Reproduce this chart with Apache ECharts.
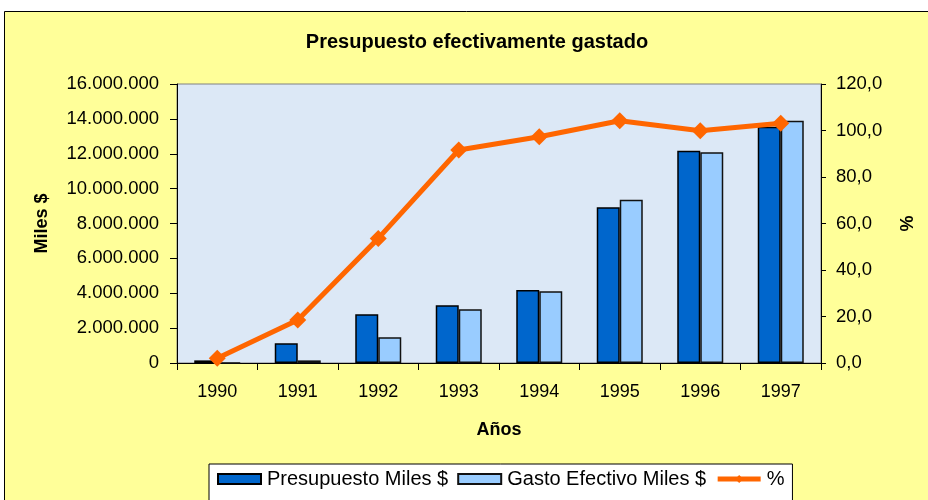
<!DOCTYPE html>
<html>
<head>
<meta charset="utf-8">
<title>Presupuesto efectivamente gastado</title>
<script src="https://cdn.jsdelivr.net/npm/echarts@6/dist/echarts.min.js"></script>
<style>
	html, body { margin: 0; padding: 0; background: #fff; }
	#chart { width: 928px; height: 500px; }
</style>
</head>
<body>
<div id="chart"></div>
<script>
var anios = ["1990", "1991", "1992", "1993", "1994", "1995", "1996", "1997"];
var presupuesto = [150000, 1130000, 2790000, 3310000, 4190000, 8930000, 12170000, 13550000];
var gasto = [4000, 150000, 1470000, 3080000, 4110000, 9360000, 12080000, 13890000];
var porcentaje = [2.0, 18.5, 53.6, 91.6, 97.3, 104.2, 99.9, 103.1];

var fuente = "Liberation Sans";

//miles con punto: 16.000.000
function fmtMiles(v) {
	return String(v).replace(/\B(?=(\d{3})+(?!\d))/g, ".");
}
//porcentaje con coma: 120,0
function fmtPct(v) {
	return v.toFixed(1).replace(".", ",");
}

var chart = echarts.init(document.getElementById("chart"));
chart.setOption({
	backgroundColor: "#ffffff",
	animation: false,
	textStyle: { fontFamily: fuente },
	graphic: [{
		type: "rect",
		z: -10,
		shape: { x: 4.5, y: 11.5, width: 940, height: 520 },
		style: { fill: "#FFFF99", stroke: "#000", lineWidth: 1 }
	}],
	title: {
		text: "Presupuesto efectivamente gastado",
		left: 472,
		textAlign: "center",
		top: 27,
		textStyle: { fontFamily: fuente, fontSize: 20, fontWeight: "bold", color: "#000" }
	},
	legend: {
		left: 209,
		top: 464,
		padding: [5, 8, 16, 8],
		borderColor: "#000",
		borderWidth: 1,
		backgroundColor: "#fff",
		itemWidth: 43,
		itemHeight: 10,
		itemGap: 9,
		textStyle: { fontFamily: fuente, fontSize: 20, color: "#000", padding: [0, 0, 0, 1] },
		data: [
			{ name: "Presupuesto Miles $", icon: "rect" },
			{ name: "Gasto Efectivo Miles $", icon: "rect" },
			{ name: "%", lineStyle: { width: 5 } }
		]
	},
	grid: {
		left: 177,
		right: 107,
		top: 84,
		bottom: 137,
		show: true,
		backgroundColor: "#DCE8F6",
		borderColor: "#808080",
		borderWidth: 1
	},
	xAxis: {
		type: "category",
		data: anios,
		name: "Años",
		nameLocation: "middle",
		nameGap: 58,
		nameTextStyle: { fontFamily: fuente, fontSize: 18, fontWeight: "bold", color: "#000" },
		axisLine: { lineStyle: { color: "#000", width: 1 } },
		axisTick: { show: true, length: 7, lineStyle: { color: "#000" } },
		axisLabel: { fontFamily: fuente, fontSize: 18, color: "#000", margin: 20 }
	},
	yAxis: [{
		type: "value",
		min: 0,
		max: 16000000,
		interval: 2000000,
		name: "Miles $",
		nameLocation: "middle",
		nameRotate: 90,
		nameGap: 126,
		nameTextStyle: { fontFamily: fuente, fontSize: 18, fontWeight: "bold", color: "#000" },
		axisLine: { show: true, lineStyle: { color: "#000", width: 1 } },
		axisTick: { show: true, length: 7, lineStyle: { color: "#000" } },
		splitLine: { show: false },
		axisLabel: { fontFamily: fuente, fontSize: 18.5, color: "#000", margin: 18, formatter: fmtMiles }
	}, {
		type: "value",
		min: 0,
		max: 120,
		interval: 20,
		name: "%",
		nameLocation: "middle",
		nameRotate: 90,
		nameGap: 78,
		nameTextStyle: { fontFamily: fuente, fontSize: 18, fontWeight: "bold", color: "#000" },
		axisLine: { show: true, lineStyle: { color: "#000", width: 1 } },
		axisTick: { show: true, length: 5, lineStyle: { color: "#000" } },
		splitLine: { show: false },
		axisLabel: { fontFamily: fuente, fontSize: 18.5, color: "#000", margin: 15, formatter: fmtPct }
	}],
	series: [{
		name: "Presupuesto Miles $",
		type: "bar",
		data: presupuesto,
		barWidth: 23,
		barGap: "0%",
		itemStyle: { color: "#0066CC", borderColor: "#000", borderWidth: 1.5 }
	}, {
		name: "Gasto Efectivo Miles $",
		type: "bar",
		data: gasto,
		barWidth: 23,
		barGap: "0%",
		itemStyle: { color: "#99CCFF", borderColor: "#111", borderWidth: 1.5 }
	}, {
		name: "%",
		type: "line",
		yAxisIndex: 1,
		data: porcentaje,
		symbol: "diamond",
		symbolSize: 17,
		lineStyle: { color: "#FF6600", width: 5 },
		itemStyle: { color: "#FF6600" }
	}]
});
</script>
</body>
</html>
